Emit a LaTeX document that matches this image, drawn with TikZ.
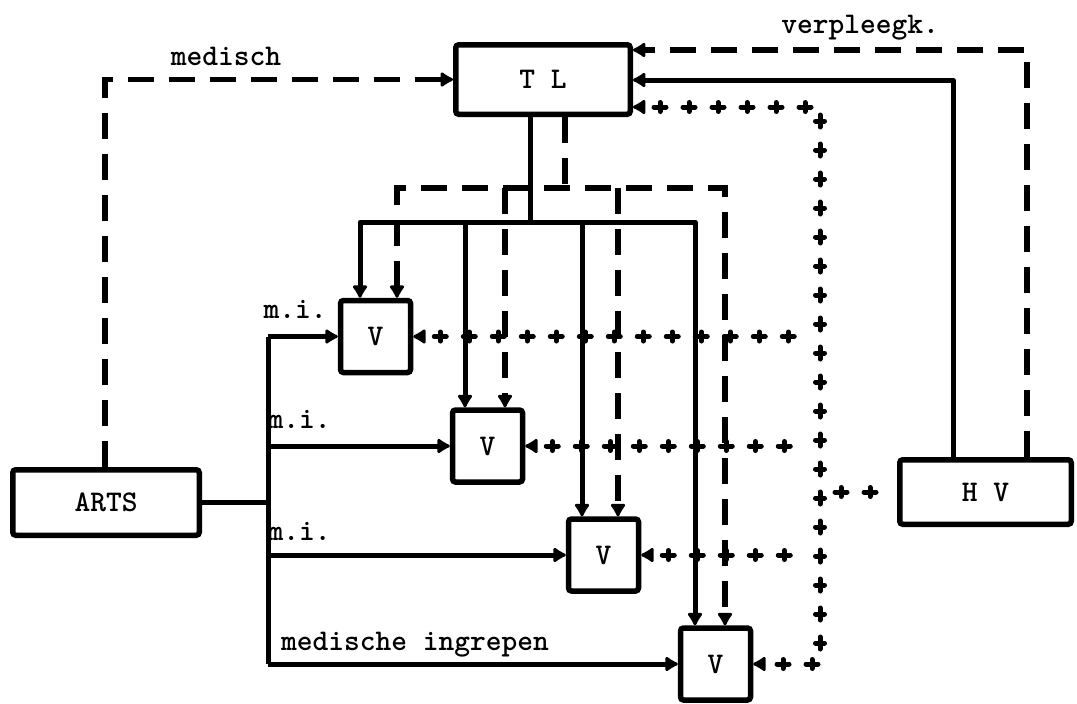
\documentclass[tikz,border=0pt]{standalone}
\usetikzlibrary{arrows.meta,decorations.markings}
\newcommand{\lblfont}{\fontsize{30}{32}\selectfont\ttfamily\bfseries}
\begin{document}
\begin{tikzpicture}[x=1pt,y=-1pt,
  box/.style={draw, line width=5.5pt, rounded corners=3pt, inner sep=0pt, font=\lblfont},
  vbox/.style={box, minimum width=70pt, minimum height=72pt},
  lbl/.style={font=\lblfont, inner sep=0pt, anchor=base},
  sl/.style={line width=5pt, line join=round},
  dl/.style={line width=5.5pt, dash pattern=on 26pt off 15pt},
  arr/.style={-{Latex[length=15pt,width=18pt,round]}},
  rarr/.style={{Latex[length=15pt,width=18pt,round]}-},
  barr/.style={{Latex[length=15pt,width=18pt,round]}-{Latex[length=15pt,width=18pt,round]}},
  cl/.style={line width=4pt, dash pattern=on 0pt off 2000pt, postaction={decorate},
    decoration={markings, mark=between positions 27pt and -8pt step 29pt with
      {\draw[-,solid,line width=5pt,line cap=round] (-6pt,0pt)--(6pt,0pt) (0pt,-4.5pt)--(0pt,4.5pt);}}},
]
\useasboundingbox (0,0) rectangle (1077,704);

% boxes
\node[box, minimum width=174.5pt, minimum height=69.5pt] (tl) at (543,79.5) {T L};
\node[box, minimum width=186.5pt, minimum height=65.5pt] (arts) at (106,502.5) {ARTS};
\node[box, minimum width=171.5pt, minimum height=64.5pt] (hv) at (985.5,492) {H V};
\node[vbox] (v1) at (375.5,336.5) {V};
\node[vbox] (v2) at (487.5,446) {V};
\node[vbox] (v3) at (603.5,555) {V};
\node[vbox] (v4) at (715.5,664) {V};

% labels
\node[lbl] (lmed) at (226,65) {medisch};
\node[lbl] (lverp) at (860,33) {verpleegk.};
\node[lbl] (lmi1) at (295,318) {m.i.};
\node[lbl] (lmi2) at (299,428) {m.i.};
\node[lbl] (lmi3) at (299,540) {m.i.};
\node[lbl] (lmed2) at (415,650) {medische ingrepen};

% helper coordinates
\coordinate (mx) at (105,0);
\coordinate (vx) at (1027,0);
\coordinate (hx) at (953,0);
\coordinate (yv) at (0,50);
\coordinate (yh) at (0,80);
\coordinate (yc) at (0,107);
\coordinate (bx) at (268,0);
\coordinate (cx) at (820,400);
\coordinate (s0) at (530,222);
\coordinate (s1) at (360,222);
\coordinate (s2) at (465,222);
\coordinate (s3) at (582,222);
\coordinate (s4) at (695,222);
\coordinate (d0) at (565,188);
\coordinate (d1) at (397,188);
\coordinate (d2) at (505,188);
\coordinate (d3) at (618,188);
\coordinate (d4) at (725,188);

% ARTS -> medisch -> TL
\draw[dl,arr] (arts.north -| mx) |- (tl.west);
% HV -> TL (verpleegk.)
\draw[dl,arr] (hv.north -| vx) |- (tl.east |- yv);
% HV -> TL solid
\draw[sl,arr] (hv.north -| hx) |- (tl.east |- yh);

% ARTS -> V's (medische ingrepen)
\draw[sl] (arts.east) -- (arts.east -| bx);
\draw[sl] (v1.west -| bx) -- (v4.west -| bx);
\draw[sl,arr] (v1.west -| bx) -- (v1.west);
\draw[sl,arr] (v2.west -| bx) -- (v2.west);
\draw[sl,arr] (v3.west -| bx) -- (v3.west);
\draw[sl,arr] (v4.west -| bx) -- (v4.west);

% TL solid bus
\draw[sl] (tl.south -| s0) -- (s0);
\draw[sl,barr] (v1.north -| s1) -- (s1) -- (s4) -- (s4 |- v4.north);
\draw[sl,arr] (s2) -- (s2 |- v2.north);
\draw[sl,arr] (s3) -- (s3 |- v3.north);

% TL dashed bus
\draw[dl] (tl.south -| d0) -- (d0);
\draw[dl,barr] (v1.north -| d1) -- (d1) -- (d4) -- (d4 |- v4.north);
\draw[dl,arr] (d2) -- (d2 |- v2.north);
\draw[dl,arr] (d3) -- (d3 |- v3.north);

% cross lines
\draw[cl,barr] (tl.east |- yc) -| (cx) |- (v4.east);
\draw[cl,rarr] (v1.east) -- (v1.east -| cx);
\draw[cl,rarr] (v2.east) -- (v2.east -| cx);
\draw[cl,rarr] (v3.east) -- (v3.east -| cx);
\draw[cl] (hv.west) -- (hv.west -| cx);
\end{tikzpicture}
\end{document}
